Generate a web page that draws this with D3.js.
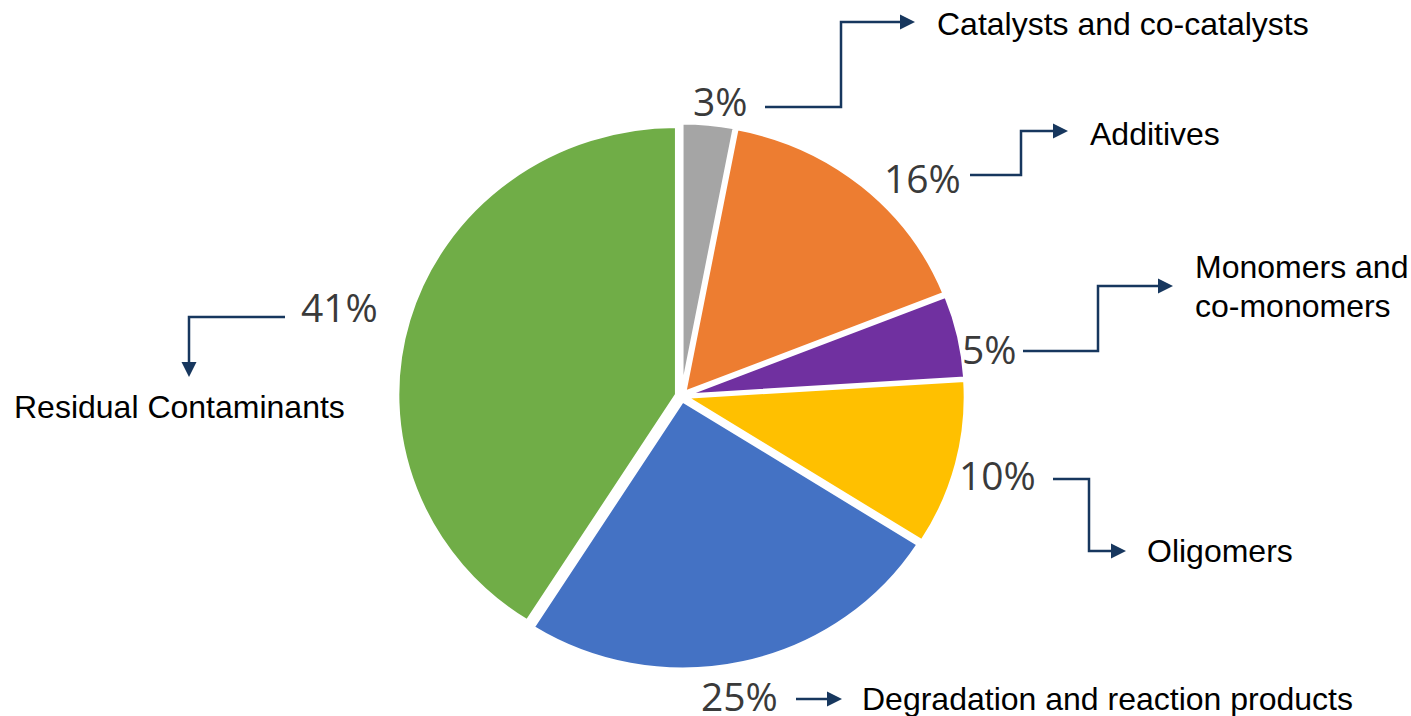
<!DOCTYPE html>
<html>
<head>
<meta charset="utf-8">
<script src="https://cdn.jsdelivr.net/npm/d3@7"></script>
<style>
  html, body { margin: 0; padding: 0; background: #ffffff; }
  svg { display: block; }
</style>
</head>
<body>
<svg id="chart" width="1411" height="716"></svg>
<script>
// Composition shares (%), clockwise from 12 o'clock
const categories = [
  "Catalysts and co-catalysts",
  "Additives",
  "Monomers and co-monomers",
  "Oligomers",
  "Degradation and reaction products",
  "Residual Contaminants"
];
const shares = [3, 16, 5, 10, 25, 41];
const sliceColors = ["#A5A5A5", "#ED7D31", "#7030A0", "#FFC000", "#4472C4", "#70AD47"];

// Callout text lines for each category
const calloutLines = [
  ["Catalysts and co-catalysts"],
  ["Additives"],
  ["Monomers and", "co-monomers"],
  ["Oligomers"],
  ["Degradation and reaction products"],
  ["Residual Contaminants"]
];

// Layout for the percentage labels, callout text and elbow connectors (same order as categories)
const pctPos = [[693, 116], [884, 193], [962, 364], [959, 490], [701, 711], [301, 322]];
const textPos = [[937, 35], [1090, 145], [1195, 278], [1147, 562], [862, 710], [14, 418]];
const lineHeight = 39;
const connectors = [
  { pts: [[765, 107], [841, 107], [841, 22], [915, 22]] },
  { pts: [[970, 175], [1021, 175], [1021, 131], [1068, 131]] },
  { pts: [[1023, 351], [1098, 351], [1098, 286], [1173, 286]] },
  { pts: [[1053, 479], [1089, 479], [1089, 551], [1126, 551]] },
  { pts: [[796, 699], [842, 699]] },
  { pts: [[285, 317], [189, 317], [189, 377]] }
];

const svg = d3.select("#chart");

// ---- pie ----
const cx = 681.5, cy = 396, radius = 268, explode = 5, xStretch = 1.04;

const pie = d3.pie().sort(null).value(d => d.value).startAngle(0).endAngle(2 * Math.PI);
const arc = d3.arc().innerRadius(0).outerRadius(radius);
const data = shares.map((v, i) => ({ name: categories[i], value: v, color: sliceColors[i] }));
const arcs = pie(data);

const pieG = svg.append("g")
  .attr("transform", `translate(${cx},${cy}) scale(${xStretch},1)`);

pieG.selectAll("path.slice")
  .data(arcs)
  .join("path")
  .attr("class", "slice")
  .attr("d", arc)
  .attr("fill", d => d.data.color)
  .attr("stroke", "#ffffff")
  .attr("stroke-width", 3)
  .attr("stroke-linejoin", "round")
  .attr("transform", d => {
    const a = (d.startAngle + d.endAngle) / 2;
    return `translate(${explode * Math.sin(a)},${-explode * Math.cos(a)})`;
  });

// ---- percentage labels ----
svg.selectAll("text.pct")
  .data(arcs)
  .join("text")
  .attr("class", "pct")
  .attr("x", (d, i) => pctPos[i][0])
  .attr("y", (d, i) => pctPos[i][1])
  .attr("font-family", "'Open Sans', 'Noto Sans', sans-serif")
  .attr("font-size", 39)
  .attr("fill", "#3a3a3a")
  .text(d => `${d.data.value}%`);

// ---- connectors with arrowheads ----
const navy = "#17375E";
const line = d3.line();
const headLen = 15, headHalf = 7.5;

connectors.forEach(c => {
  const p = c.pts;
  const n = p.length;
  const [x1, y1] = p[n - 2];
  const [x2, y2] = p[n - 1];
  const len = Math.hypot(x2 - x1, y2 - y1);
  const ux = (x2 - x1) / len, uy = (y2 - y1) / len;
  const bx = x2 - ux * headLen, by = y2 - uy * headLen;
  const shaft = p.slice(0, n - 1).concat([[bx + ux * 1, by + uy * 1]]);
  svg.append("path")
    .attr("d", line(shaft))
    .attr("fill", "none")
    .attr("stroke", navy)
    .attr("stroke-width", 2.5);
  svg.append("path")
    .attr("d", line([[x2, y2], [bx - uy * headHalf, by + ux * headHalf], [bx + uy * headHalf, by - ux * headHalf]]) + "Z")
    .attr("fill", navy);
});

// ---- callout texts ----
calloutLines.forEach((lines, i) => {
  const t = svg.append("text")
    .attr("class", "callout")
    .attr("x", textPos[i][0])
    .attr("y", textPos[i][1])
    .attr("font-family", "'Liberation Sans', Arial, sans-serif")
    .attr("font-size", 32)
    .attr("fill", "#000000");
  lines.forEach((s, k) => {
    t.append("tspan")
      .attr("x", textPos[i][0])
      .attr("dy", k === 0 ? 0 : lineHeight)
      .text(s);
  });
});
</script>
</body>
</html>
